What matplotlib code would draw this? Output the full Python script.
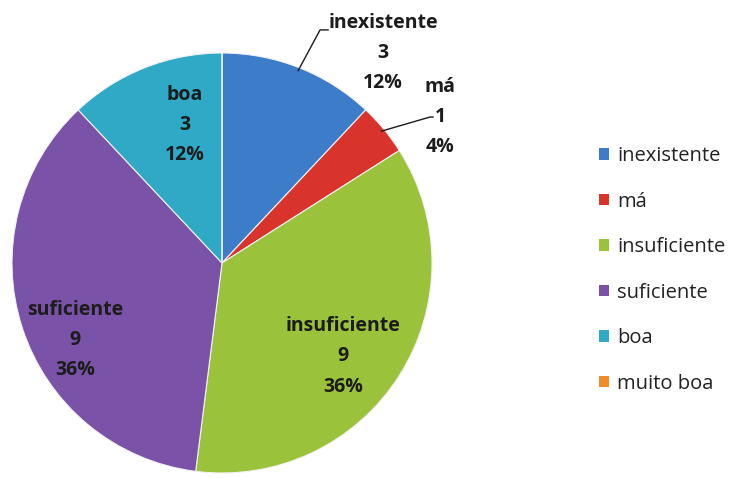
import matplotlib
matplotlib.use("Agg")
import matplotlib.pyplot as plt
from matplotlib.patches import Patch
import numpy as np

# Data
categories = ["inexistente", "má", "insuficiente", "suficiente", "boa", "muito boa"]
counts = [3, 1, 9, 9, 3, 0]
colors = ["#3d7cc9", "#d9342b", "#9bc23b", "#7a52a8", "#2fa9c6", "#f08b2c"]

# label centres (pie data units, radius 1) and optional leader elbows
label_xy = [(0.767, 1.0), (1.038, 0.695), (0.576, -0.445), (-0.70, -0.367), (-0.176, 0.657)]
leader_pts = {0: [(0.467, 1.11), (0.505, 1.11)],
              1: [(0.99, 0.695), (1.005, 0.695)]}

plt.rcParams["font.family"] = ["Open Sans", "DejaVu Sans"]

fig = plt.figure(figsize=(7.39, 4.78), dpi=100)
ax = fig.add_axes([12 / 739, 5 / 478, 420 / 739, 420 / 478])

wedges, _ = ax.pie(counts, colors=colors, startangle=90, counterclock=False,
                   radius=1, wedgeprops=dict(edgecolor="#f2f2f2", linewidth=0.8))
ax.set_xlim(-1, 1)
ax.set_ylim(-1, 1)

total = sum(counts)
for i, (w, n) in enumerate(zip(wedges, counts)):
    if n == 0:
        continue
    pct = round(100 * n / total)
    x, y = label_xy[i]
    ax.text(x, y, "%s\n%d\n%d%%" % (categories[i], n, pct), ha="center", va="center",
            fontsize=14, fontweight="bold", color="#1c1c1c", linespacing=1.68)
    if i in leader_pts:
        mid = np.deg2rad((w.theta1 + w.theta2) / 2)
        xs = [0.985 * np.cos(mid)] + [p[0] for p in leader_pts[i]]
        ys = [0.985 * np.sin(mid)] + [p[1] for p in leader_pts[i]]
        ax.plot(xs, ys, color="#1c1c1c", lw=1, clip_on=False)

handles = [Patch(facecolor=c, edgecolor="none") for c in colors]
fig.legend(handles, categories, loc="upper left", bbox_to_anchor=(599 / 739, 1 - 146 / 478),
           frameon=False, fontsize=14.5, handlelength=0.5, handleheight=0.5,
           handletextpad=0.4, labelspacing=1.27, borderpad=0, borderaxespad=0,
           labelcolor="#222222")

fig.savefig("out.png", dpi=100)
